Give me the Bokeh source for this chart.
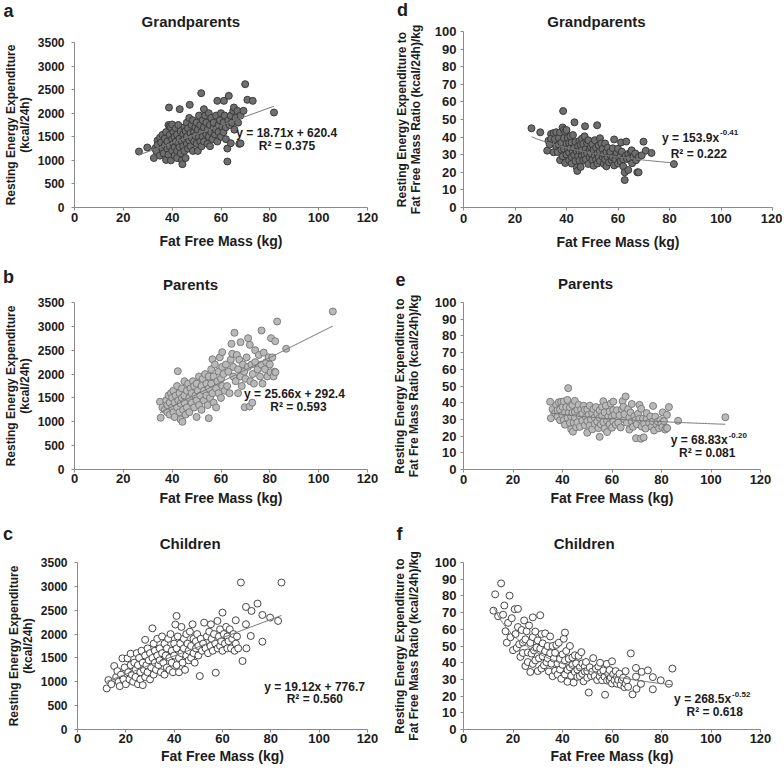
import numpy as np
from bokeh.plotting import figure
from bokeh.models import Range1d, FixedTicker, Label
from bokeh.layouts import column, row
from bokeh.embed import file_html
from bokeh.resources import INLINE
from bokeh.core.properties import value

FONT = "Liberation Sans"

# ---------------- data (Fat Free Mass kg, REE kcal/24h) ----------------
gp_pairs = [(26.4,1188),(29.8,1273),(32.5,1050),(33,1250),(33.5,1200),(34,1420),(34,1330),(35,1100),
 (35,1480),(35.5,1380),(36,1250),(36,1540),(36.5,1150),(37,1320),(37,1460),(37.5,1010),(37.5,1600),
 (38,1250),(38,1400),(38.5,1120),(38.5,1750),(38.7,2121),(39,1540),(39,1300),(39,1720),(39.5,1700),(39.5,1000),
 (40,1450),(40,1200),(40,1760),(40.5,1350),(40.5,1600),(41,1100),(41,1500),(41,1280),(41.5,1680),
 (41.5,1400),(42,1200),(42,1550),(42,1050),(42.5,1350),(42.5,1750),(43,1460),(43,1280),(43.1,2086),
 (43.5,1620),(43.5,1150),(44,1400),(44,1000),(44.2,919),(44.5,1550),(44.5,1300),(45,1700),(45,1200),
 (45,1450),(45.5,1050),(45.5,1620),(46,1350),(46,1800),(46,1500),(46.5,1250),(46.5,1680),(47,1420),
 (47,1900),(47.2,2178),(47.5,1580),(47.5,1300),(48,1750),(48,1480),(48.5,1200),(48.5,1850),(49,1600),
 (49,1400),(49.5,1700),(49.5,1520),(50,1350),(50,1800),(50.5,1650),(50.5,1200),(51,1500),(51,1950),
 (51.5,1400),(51.5,1750),(51.9,2425),(52,1600),(52,1300),(52.5,1850),(52.5,1500),(53,2086),(53,1700),
 (53,1400),(53.5,1950),(54,1550),(54,1800),(54.5,1350),(54.5,1650),(55,2000),(55,1500),(55.5,1750),
 (55.5,1300),(56,1600),(56,1900),(56.5,1450),(57,1700),(57,1800),(57.5,1550),(58,1950),(58,1650),
 (58.5,2262),(58.5,1400),(59,1750),(59,1600),(59.5,1850),(60,1500),(60,2000),(60.5,1700),(61,1800),
 (61,1600),(61.2,2262),(61.5,1950),(62,1700),(62,1450),(62.6,976),(62.6,1251),(63,1850),(63.2,2368),
 (63.5,1750),(64,1364),(64,1950),(64.5,1800),(65,2050),(65.3,2121),(65.5,1650),(66,1900),(66.7,2050),
 (67,1800),(67.5,1350),(68,1360),(68,1950),(69.2,2050),(69.9,2616),(70.8,2284),(73,2262),(81.7,2015)]

pa_pairs = [(35,1420),(35.3,1085),(36,1300),(37,1250),(37.5,1450),(38,1350),(38,1200),(38.5,1550),
 (39,1400),(39,1150),(39.5,1600),(40,1300),(40,1500),(40.5,1200),(40.5,1650),(41,1400),(41,1100),
 (41.5,1550),(42,1300),(42,1750),(42.3,2060),(42.5,1450),(43,1200),(43,1600),(43.5,1050),(43.5,1380),
 (44,1700),(44,1500),(44.2,1000),(44.5,1250),(45,1850),(45,1550),(45,1400),(45.5,1150),(46,1650),
 (46,1300),(46.5,1800),(47,1500),(47,1200),(47.5,1700),(48,1400),(48,1600),(48.5,1850),(49,1300),
 (49,1750),(49.5,1550),(50,1100),(50,1450),(50,1800),(50.5,1650),(51,1350),(51,1950),(51.5,1550),
 (52,1750),(52,1250),(52.5,1900),(53,1450),(53,1650),(53.5,2000),(54,1550),(54,1800),(54.5,1350),
 (55,1075),(55,1700),(55,1950),(55.5,1500),(56,2100),(56,1800),(56.5,2310),(56.5,1600),(57,1400),
 (57,1950),(57.5,2200),(58,1700),(58,1300),(58.5,1850),(59,2050),(59,1600),(59.5,2350),(60,1900),
 (60,1500),(60.5,2459),(60.5,2150),(60.5,1750),(61,2000),(61.5,1650),(62,2200),(62.5,1750),(63,2050),
 (63.5,1600),(64,2300),(64.3,2634),(64.6,2425),(65,1950),(65,2150),(65.5,2865),(66,1850),(66.5,2400),
 (67,1600),(67,2100),(67.5,2300),(68,2668),(68,1950),(68.5,1750),(69,2200),(69.5,2050),(69.7,1305),
 (70,1900),(70.5,2350),(71,2150),(71.1,2752),(71.7,1320),(71.8,2613),(72,1850),(72.5,2200),(72.8,1400),
 (73,2000),(73.5,1800),(74,2250),(74,2500),(75,2100),(75.5,2400),(76,1950),(76.5,2200),(76.6,2913),
 (77,1800),(77.5,2450),(78,2100),(78.5,2250),(79,1950),(79.5,2350),(80,2200),(80.3,2039),(80.5,2752),
 (81,2350),(81.5,1950),(82,2050),(82.2,2689),(82.3,2039),(83,3102),(86.7,2530),(105.8,3311)]

ch_pairs = [(12.1,861),(12.8,1036),(14,950),(15.2,1330),(16,1100),(16.5,1225),(17,1000),(17.5,910),
 (18,1150),(18.6,1491),(19,1050),(19.5,1300),(20,950),(20.7,1491),(21,1200),(21.5,1050),(22,1589),
 (22,1350),(22.5,1150),(23,1000),(23.5,1400),(24,1250),(24,1100),(24.5,1600),(25,950),(25,1350),
 (25.5,1500),(26,1200),(26,1050),(26.5,1650),(27,930),(27,1400),(27.5,1250),(28,1880),(28,1550),
 (28,1100),(28.5,1350),(29,1700),(29,1200),(29.5,1450),(30,1050),(30,1600),(30.5,1300),(31,2121),
 (31,1500),(31.5,1150),(31.5,1800),(32,1400),(32,1650),(32.5,1250),(33,1550),(33,1900),(33.5,1350),
 (34,1700),(34,1450),(34.5,1200),(35,1950),(35,1600),(35.5,1400),(36,1800),(36,1150),(36.5,1550),
 (37,1700),(37,1300),(37.5,1900),(38,1500),(38,1250),(38.5,2000),(39,1650),(39,1400),(39.5,1200),
 (40,1800),(40,1550),(40.5,2200),(41,2380),(41,1350),(41,1700),(41.5,1950),(42,1500),(42,1200),
 (42.5,1800),(43,2150),(43,1600),(43.5,1400),(44,1900),(44,1700),(44.5,1250),(45,2000),(45,1550),
 (45.5,1800),(46,1450),(46,1650),(46.5,2050),(47,1750),(47,1500),(47.6,2205),(48,1900),(48,1600),
 (48.5,1400),(49,1850),(49,1700),(49.5,2000),(50,1550),(50,1750),(50.6,1120),(51,1900),(51.5,1650),
 (52,1800),(52.4,2240),(53,1700),(53.5,1950),(54,1600),(54.5,2050),(55,1750),(55.2,2205),(55.5,1900),
 (56,1650),(56.5,2000),(57,1800),(57.2,1190),(57.9,2275),(58,1700),(58.5,1950),(59,2100),(59,1750),
 (59.5,1850),(60,2450),(60,1650),(60.5,2000),(61,1800),(61.5,2150),(62,1700),(62,1950),(62.5,1850),
 (63,2100),(63.5,1700),(64,1900),(64.5,2000),(65,1650),(65.5,2289),(65.5,1800),(66,1950),(66.5,1700),
 (67.6,3080),(68.3,1435),(69.7,2569),(69.7,2205),(69.9,1701),(71.7,1960),(72,2485),(74.5,2639),
 (76.5,2401),(76.5,1841),(79.7,2345),(83,2275),(84.4,3080)]

# fitted equations shown on the chart
gp_lin = (18.71, 620.4); pa_lin = (25.66, 292.4); ch_lin = (19.12, 776.7)
gp_pow = (153.9, -0.41); pa_pow = (68.83, -0.20); ch_pow = (268.5, -0.52)
r2_values = {"a": "0.375", "b": "0.593", "c": "0.560", "d": "0.222", "e": "0.081", "f": "0.618"}

x_ticks = [0, 20, 40, 60, 80, 100, 120]
ree_ticks = [0, 500, 1000, 1500, 2000, 2500, 3000, 3500]
ratio_ticks = [0, 10, 20, 30, 40, 50, 60, 70, 80, 90, 100]

titles = {"a": "Grandparents", "b": "Parents", "c": "Children",
          "d": "Grandparents", "e": "Parents", "f": "Children"}
ylabels = {"a": "Resting Energy Expenditure\n(kcal/24h)",
           "b": "Resting Energy Expenditure\n(kcal/24h)",
           "c": "Resting Energy Expenditure\n(kcal/24h)",
           "d": "Resting Energy Expenditure to\nFat Free Mass Ratio (kcal/24h)/kg",
           "e": "Resting Energy Expenditure to\nFat Fre Mass Ratio (kcal/24h)/kg",
           "f": "Resting Energy Expenditure to\nFat Free Mass Ratio (kcal/24h)/kg"}

def split(pairs):
    return [p[0] for p in pairs], [p[1] for p in pairs]

gp_x, gp_y = split(gp_pairs)
pa_x, pa_y = split(pa_pairs)
ch_x, ch_y = split(ch_pairs)
ratio = lambda xs, ys: [y / x for x, y in zip(xs, ys)]

styles = {
    "gp": dict(fill_color="#6e6e6e", line_color="#3a3a3a"),
    "pa": dict(fill_color="#b9b9b9", line_color="#7c7c7c"),
    "ch": dict(fill_color="#ffffff", line_color="#454545"),
}

# layout config: origin on page, size, borders, text positions (page coords)
cfg = {
 "a": dict(ox=0, oy=0, W=379, H=257, l=74, r=12, t=42, b=50, ts=(2, 8), ys=(7, 3), ytf=12,
           title=(190.3, 20.7), letter=(8, 10), side="above"),
 "d": dict(ox=379, oy=0, W=403, H=257, l=84, r=10, t=31, b=50, ts=(3, 8), ys=(4, 9), ytf=13,
           title=(596, 20.7), letter=(401, 9), side="left"),
 "b": dict(ox=0, oy=257, W=379, H=257, l=74, r=12, t=45, b=45, ts=(1, 4), ys=(7, 3), ytf=12,
           title=(190, 283.7), letter=(8, 276), side="above"),
 "e": dict(ox=379, oy=257, W=403, H=257, l=84, r=22, t=45, b=45, ts=(2, 3), ys=(4, 11), ytf=13,
           title=(585, 283), letter=(400, 278), side="above"),
 "c": dict(ox=0, oy=514, W=379, H=255, l=77, r=12, t=48, b=40, ts=(1, 2), ys=(7, 3), ytf=12,
           title=(189.7, 543.3), letter=(7.5, 533), side="above"),
 "f": dict(ox=379, oy=514, W=403, H=255, l=84, r=22, t=48, b=40, ts=(1, 2), ys=(4, 11), ytf=13,
           title=(583.7, 543.3), letter=(399, 533), side="above"),
}
H_TITLE = 17.7    # height taken by the title panel above the frame
W_LEFT = 84       # axis panel + letter panel width on the left (panel d)

TXT = "#1c1c1c"
AX = "#8a8a8a"

def make(key, xs, ys, ymax, yticks, style):
    c = cfg[key]
    p = figure(width=c["W"], height=c["H"], x_range=Range1d(0, 120), y_range=Range1d(0, ymax),
               output_backend="svg", toolbar_location=None,
               min_border_left=c["l"], min_border_right=c["r"],
               min_border_top=c["t"], min_border_bottom=c["b"])
    if "frame_align" in p.properties():
        p.frame_align = False
    p.outline_line_color = None
    p.xgrid.visible = False
    p.ygrid.visible = False
    p.background_fill_color = "white"
    p.border_fill_color = "white"
    p.xaxis.ticker = FixedTicker(ticks=x_ticks)
    p.yaxis.ticker = FixedTicker(ticks=yticks)
    for ax in (p.xaxis[0], p.yaxis[0]):
        ax.axis_line_color = AX
        ax.major_tick_line_color = AX
        ax.minor_tick_line_color = None
        ax.major_tick_in = 0
        ax.major_tick_out = 3
        ax.major_label_text_font = FONT
        ax.major_label_text_font_style = "bold"
        ax.major_label_text_color = TXT
        ax.axis_label_text_font = FONT
        ax.axis_label_text_font_style = "bold"
        ax.axis_label_text_color = TXT
    p.xaxis.major_label_text_font_size = "13px"
    p.yaxis.major_label_text_font_size = "%dpx" % c["ytf"]
    p.xaxis.axis_label = "Fat Free Mass (kg)"
    p.xaxis.axis_label_text_font_size = "14px"
    p.xaxis.major_label_standoff = c["ts"][0]
    p.xaxis.axis_label_standoff = c["ts"][1]
    p.yaxis.axis_label = ylabels[key]
    p.yaxis.axis_label_text_font_size = "12px"
    p.yaxis.axis_label_text_line_height = 1.0
    p.yaxis.major_label_standoff = c["ys"][0]
    p.yaxis.axis_label_standoff = c["ys"][1]

    p.scatter(xs, ys, marker="circle", size=7, line_width=1, **style)

    # title and panel letter live in side panels (not clipped to the frame)
    fl = c["ox"] + c["l"]
    ft = c["oy"] + c["t"]
    fb = c["oy"] + c["H"] - c["b"]
    tx, ty = c["title"]
    p.add_layout(Label(x=tx - fl, y=ft - ty, x_units="screen", y_units="screen", text=titles[key],
                       text_font=FONT, text_font_style="bold", text_font_size="15px",
                       text_color=TXT, text_align="center", text_baseline="middle"), "above")
    lx, ly = c["letter"]
    if c["side"] == "above":
        lab = Label(x=lx - fl, y=(ft - H_TITLE) - ly, x_units="screen", y_units="screen")
    else:
        lab = Label(x=lx - (fl - W_LEFT), y=fb - ly, x_units="screen", y_units="screen")
    lab.text = key
    lab.text_font = FONT
    lab.text_font_style = "bold"
    lab.text_font_size = "18px"
    lab.text_color = TXT
    lab.text_align = "center"
    lab.text_baseline = "middle"
    p.add_layout(lab, c["side"])
    return p

def eq_text(p, x, y, txt, align="center"):
    p.text([x], [y], text=[txt], text_font=value(FONT), text_font_style="bold",
           text_font_size="12px", text_color=TXT, text_align=align, text_baseline="middle")

TREND = "#7a7a7a"

def linear_panel(key, xs, ys, lin, eq_pos, r2_pos, style):
    p = make(key, xs, ys, 3500, ree_ticks, style)
    x0, x1 = min(xs), max(xs)
    p.line([x0, x1], [lin[0] * x0 + lin[1], lin[0] * x1 + lin[1]], line_color=TREND, line_width=1)
    eq_text(p, eq_pos[0], eq_pos[1], "y = %.2fx + %.1f" % lin)
    eq_text(p, r2_pos[0], r2_pos[1], "R² = " + r2_values[key])
    return p

def power_panel(key, xs, ys, pw, eq_pos, r2_pos, style):
    rs = ratio(xs, ys)
    p = make(key, xs, rs, 100, ratio_ticks, style)
    tx = np.linspace(min(xs), max(xs), 60)
    p.line(tx, pw[0] * tx ** pw[1], line_color=TREND, line_width=1)
    main = "y = %sx" % (("%.2f" % pw[0]) if pw[0] < 100 else "%.1f" % pw[0])
    eq_text(p, eq_pos[0], eq_pos[1], main, align="left")
    p.text([eq_pos[0]], [eq_pos[1]], text=["%.2f" % pw[1]], x_offset=58, y_offset=-5,
           text_font=value(FONT), text_font_style="bold", text_font_size="8px",
           text_color=TXT, text_align="left", text_baseline="middle")
    eq_text(p, r2_pos[0], r2_pos[1], "R² = " + r2_values[key])
    return p

pa_ = linear_panel("a", gp_x, gp_y, gp_lin, (86.9, 1570), (87, 1294), styles["gp"])
pb_ = linear_panel("b", pa_x, pa_y, pa_lin, (90.1, 1575), (91.7, 1309), styles["pa"])
pc_ = linear_panel("c", ch_x, ch_y, ch_lin, (98.1, 889), (98.2, 644), styles["ch"])
pd_ = power_panel("d", gp_x, gp_y, gp_pow, (77.1, 39.5), (91.4, 30.2), styles["gp"])
pe_ = power_panel("e", pa_x, pa_y, pa_pow, (83.7, 17.4), (98.5, 9.6), styles["pa"])
pf_ = power_panel("f", ch_x, ch_y, ch_pow, (85.1, 18.0), (101.5, 10.6), styles["ch"])

layout = column(row(pa_, pd_), row(pb_, pe_), row(pc_, pf_))
open("out.html", "w").write(file_html(layout, INLINE))
